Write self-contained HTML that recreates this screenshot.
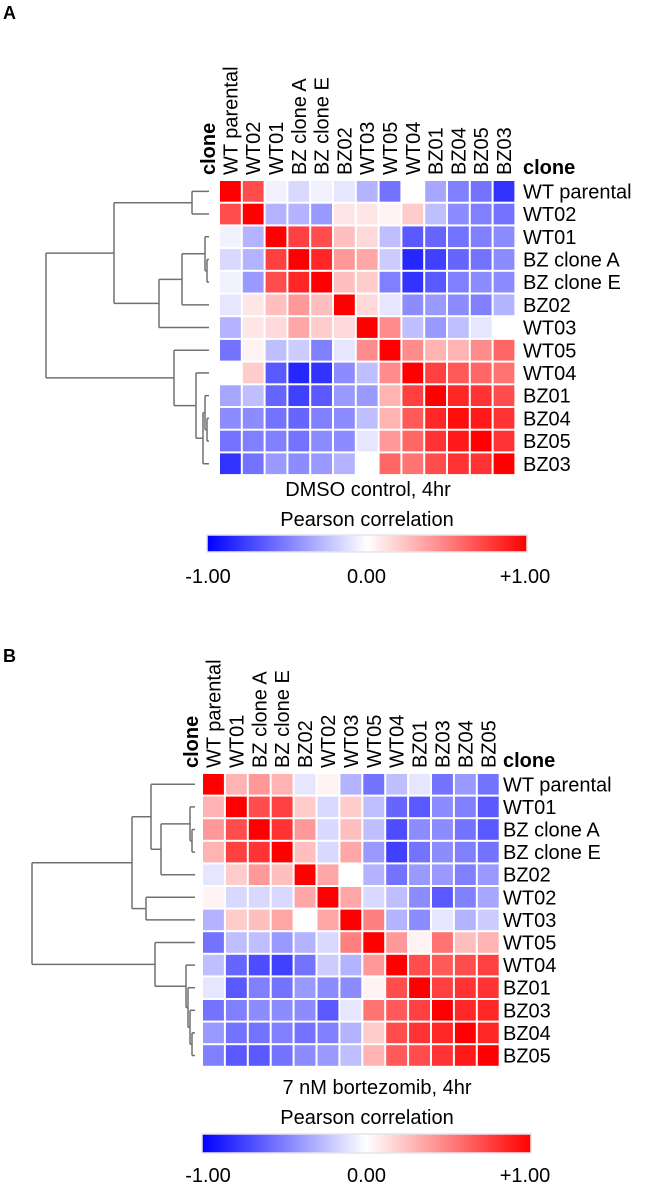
<!DOCTYPE html>
<html><head><meta charset="utf-8"><style>
html,body{margin:0;padding:0;background:#fff;}
svg{display:block;font-family:"Liberation Sans",Arial,sans-serif;}
</style></head><body>
<svg id="fig" width="666" height="1194" viewBox="0 0 666 1194" xmlns="http://www.w3.org/2000/svg">
<defs>
<linearGradient id="cb" x1="0" x2="1" y1="0" y2="0">
<stop offset="0" stop-color="#0000ff"/><stop offset="0.5" stop-color="#ffffff"/><stop offset="1" stop-color="#ff0000"/>
</linearGradient>
</defs>
<text x="3" y="19" font-size="18" font-weight="bold">A</text>
<text x="3" y="662" font-size="18" font-weight="bold">B</text>
<g id="panelA"></g>
<g id="panelB"></g>
</svg>
<script>
const labelsA = ["WT parental","WT02","WT01","BZ clone A","BZ clone E","BZ02","WT03","WT05","WT04","BZ01","BZ04","BZ05","BZ03"];
const valuesA = [
[1,.7,-.05,-.15,-.05,-.1,-.3,-.55,0,-.35,-.5,-.55,-.8],
[.7,1,-.3,-.3,-.4,.1,.1,.05,.2,-.25,-.45,-.5,-.55],
[-.05,-.3,1,.75,.7,.25,.15,-.25,-.65,-.6,-.55,-.5,-.45],
[-.15,-.3,.75,1,.85,.4,.35,-.2,-.85,-.75,-.6,-.55,-.45],
[-.05,-.4,.7,.85,1,.25,.2,-.5,-.8,-.65,-.5,-.45,-.45],
[-.1,.1,.25,.4,.25,1,.15,-.1,-.45,-.4,-.45,-.5,-.3],
[-.3,.1,.15,.35,.2,.15,1,.45,-.25,-.4,-.25,-.1,0],
[-.55,.05,-.25,-.2,-.5,-.1,.45,1,.45,.3,.3,.45,.6],
[0,.2,-.65,-.85,-.8,-.45,-.25,.45,1,.75,.65,.6,.55],
[-.35,-.25,-.6,-.75,-.65,-.4,-.4,.3,.75,1,.85,.8,.7],
[-.45,-.45,-.55,-.6,-.5,-.45,-.25,.3,.65,.85,.95,.9,.8],
[-.55,-.5,-.5,-.55,-.45,-.45,-.1,.4,.6,.8,.9,1,.8],
[-.8,-.55,-.4,-.45,-.4,-.3,0,.6,.55,.7,.8,.8,1]];
const treeA = [46,[114,[192,0,1],[159,[182,[205,2,[207,3,4]],5],6]],[174,7,[196,8,[203,[205,9,[207,10,11]],12]]]];

const labelsB = ["WT parental","WT01","BZ clone A","BZ clone E","BZ02","WT02","WT03","WT05","WT04","BZ01","BZ03","BZ04","BZ05"];
const valuesB = [
[1,.3,.4,.3,-.1,.05,-.3,-.55,-.25,-.1,-.55,-.4,-.55],
[.3,1,.7,.75,.2,-.15,.2,-.25,-.6,-.65,-.45,-.5,-.65],
[.4,.7,1,.8,.4,-.15,.25,-.25,-.7,-.45,-.45,-.55,-.65],
[.3,.75,.8,1,.25,-.15,.35,-.4,-.75,-.55,-.45,-.5,-.55],
[-.1,.2,.4,.25,1,.35,0,-.3,-.55,-.4,-.4,-.5,-.4],
[.05,-.15,-.15,-.15,.35,1,.35,-.15,-.25,-.45,-.65,-.5,-.35],
[-.3,.2,.25,.35,0,.35,1,.5,-.3,-.45,-.1,-.3,-.2],
[-.55,-.25,-.25,-.4,-.3,-.15,.5,1,.4,.05,.55,.25,.3],
[-.25,-.6,-.7,-.75,-.55,-.2,-.3,.4,1,.7,.65,.7,.75],
[-.1,-.65,-.5,-.55,-.4,-.45,-.45,.05,.7,1,.75,.8,.8],
[-.55,-.5,-.45,-.45,-.45,-.65,-.1,.55,.65,.75,1,.85,.85],
[-.4,-.55,-.55,-.5,-.55,-.5,-.3,.2,.7,.8,.85,1,.85],
[-.5,-.65,-.65,-.55,-.45,-.4,-.25,.3,.65,.7,.8,.9,1]];
const treeB = [32,[132,[151,0,[161,[190,1,[192,2,3]],4]],[146,5,6]],[155,7,[186,8,[188,9,[190,10,[192,11,12]]]]]];

const tickLabels = ["-1.00","0.00","+1.00"];
const tickValues = [-1,0,1];

const NS="http://www.w3.org/2000/svg";
function mk(tag,attrs,parent){const e=document.createElementNS(NS,tag);for(const k in attrs)e.setAttribute(k,attrs[k]);parent.appendChild(e);return e;}
function col(v){v=Math.max(-1,Math.min(1,v));
 if(v<0){const c=Math.round(255*(1+v));return `rgb(${c},${c},255)`;}
 const c=Math.round(255*(1-v));return `rgb(255,${c},${c})`;}

function panel(g,labels,values,tree,cfg){
 const n=labels.length;
 const xS=i=>cfg.x0+i*cfg.cw, yS=i=>cfg.y0+i*cfg.ch;
 for(let r=0;r<n;r++)for(let c=0;c<n;c++){
  const rc=mk('rect',{x:xS(c)+1,y:yS(r)+1,width:cfg.cw-2,height:cfg.ch-2,fill:col(values[r][c])},g);
  
  
 }
 for(let i=0;i<n;i++){
  const t=mk('text',{x:cfg.rx,y:yS(i)+cfg.ch/2+7,'font-size':20},g);t.textContent=labels[i];
  
  
  const cx=xS(i)+cfg.cw/2+7, cy=cfg.y0-5;
  const t2=mk('text',{x:cx,y:cy,'font-size':20,transform:`rotate(-90 ${cx} ${cy})`},g);t2.textContent=labels[i];
  
  
 }
 const ccx=cfg.x0-11+7, ccy=cfg.y0-5;
 const c1=mk('text',{x:ccx,y:ccy,'font-size':20,'font-weight':'bold',transform:`rotate(-90 ${ccx} ${ccy})`},g);c1.textContent='clone';
 
 
 const c2=mk('text',{x:cfg.rx,y:cfg.y0-6,'font-size':20,'font-weight':'bold'},g);c2.textContent='clone';
 
 
 const dg=mk('g',{stroke:'#707070','stroke-width':1.5,fill:'none'},g);
 
 
 function draw(node){
  if(typeof node==='number')return {x:cfg.leafX,y:yS(node)+cfg.ch/2};
  const a=draw(node[1]),b=draw(node[2]),x=node[0];
  mk('line',{x1:x,y1:a.y,x2:x,y2:b.y},dg);
  mk('line',{x1:x,y1:a.y,x2:a.x,y2:a.y},dg);
  mk('line',{x1:x,y1:b.y,x2:b.x,y2:b.y},dg);
  return {x:x,y:(a.y+b.y)/2};
 }
 draw(tree);
 const cap=mk('text',{x:cfg.capX,y:cfg.capY,'font-size':20,'text-anchor':'middle'},g);cap.textContent=cfg.caption;
 
 
 const pt=mk('text',{x:367,y:cfg.pY,'font-size':20,'text-anchor':'middle'},g);pt.textContent='Pearson correlation';
 
 
 const cb=mk('rect',{x:cfg.cbx0,y:cfg.cby,width:cfg.cbx1-cfg.cbx0,height:cfg.cbh,fill:'url(#cb)',stroke:'#e4e4ee','stroke-width':1.5},g);
 
 
 const tx=v=>208+(v+1)/2*(525-208);
 for(let i=0;i<tickValues.length;i++){
  const t=mk('text',{x:tx(tickValues[i]),y:cfg.tY,'font-size':20,'text-anchor':'middle'},g);t.textContent=tickLabels[i];
  
  
 }
}
panel(document.getElementById('panelA'),labelsA,valuesA,treeA,{x0:219,y0:180,cw:22.8,ch:22.7,rx:523,leafX:209,caption:'DMSO control, 4hr',capX:368,capY:496,pY:526,cbx0:207,cbx1:527,cby:535,cbh:17,tY:583});
panel(document.getElementById('panelB'),labelsB,valuesB,treeB,{x0:202,y0:773,cw:22.9,ch:22.6,rx:503,leafX:195,caption:'7 nM bortezomib, 4hr',capX:377,capY:1094,pY:1124,cbx0:202,cbx1:531,cby:1134,cbh:19,tY:1182});
</script>
</body></html>
